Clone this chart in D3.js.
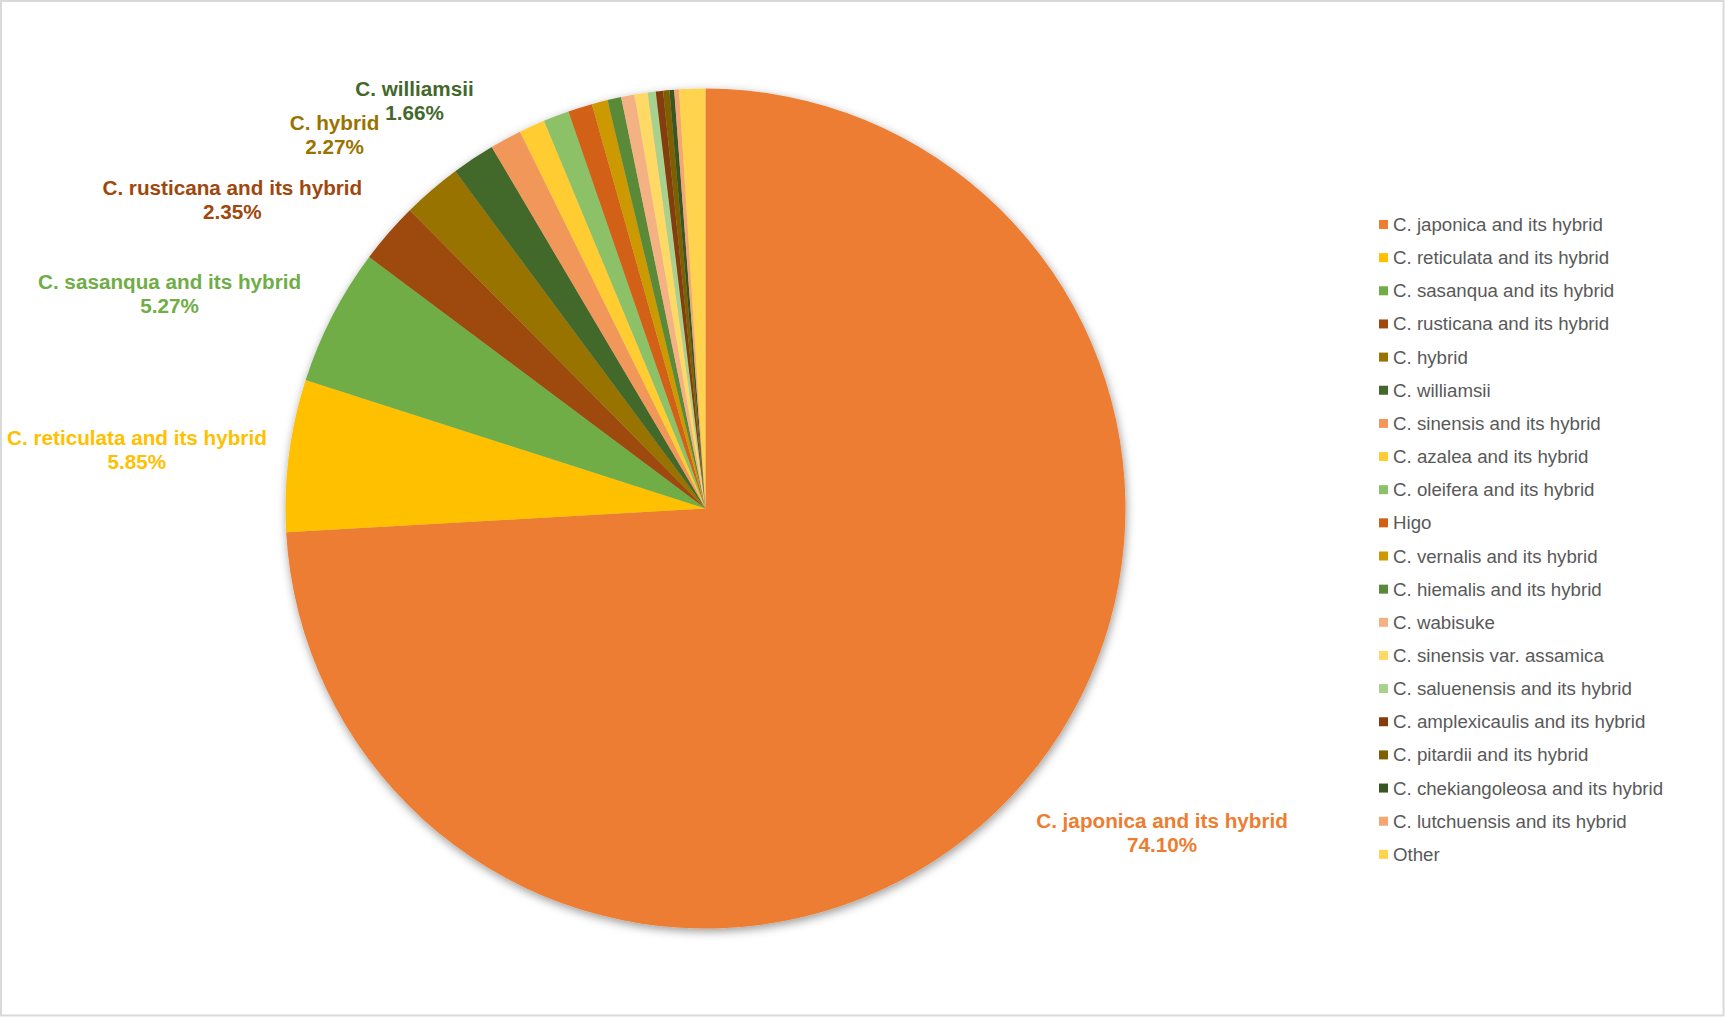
<!DOCTYPE html>
<html>
<head>
<meta charset="utf-8">
<script src="https://cdn.jsdelivr.net/npm/d3@7"></script>
<style>
  html, body { margin: 0; padding: 0; background: #fff; }
  svg { display: block; }
</style>
</head>
<body>
<div id="chart"></div>
<script>
// Camellia cultivar groups and their share of registered cultivars (%)
const categories = [
  "C. japonica and its hybrid",
  "C. reticulata and its hybrid",
  "C. sasanqua and its hybrid",
  "C. rusticana and its hybrid",
  "C. hybrid",
  "C. williamsii",
  "C. sinensis and its hybrid",
  "C. azalea and its hybrid",
  "C. oleifera and its hybrid",
  "Higo",
  "C. vernalis and its hybrid",
  "C. hiemalis and its hybrid",
  "C. wabisuke",
  "C. sinensis var. assamica",
  "C. saluenensis and its hybrid",
  "C. amplexicaulis and its hybrid",
  "C. pitardii and its hybrid",
  "C. chekiangoleosa and its hybrid",
  "C. lutchuensis and its hybrid",
  "Other"
];
const shares = [
  74.10, 5.85, 5.27, 2.35, 2.27, 1.66, 1.22, 1.00, 0.99, 0.93,
  0.61, 0.53, 0.51, 0.51, 0.31, 0.28, 0.24, 0.18, 0.18, 1.01
];
const sliceColors = [
  "#ED7D31", "#FFC000", "#70AD47", "#9E480E", "#997300", "#43682B",
  "#F1975A", "#FFCD33", "#8CC168", "#D26012", "#CC9A00", "#5A8A39",
  "#F4B183", "#FFD966", "#A9D18E", "#843C0C", "#7F6000", "#375623",
  "#F4A673", "#FFD34D"
];
// Groups that carry a data label on the pie
const labeledCategories = [
  "C. japonica and its hybrid",
  "C. reticulata and its hybrid",
  "C. sasanqua and its hybrid",
  "C. rusticana and its hybrid",
  "C. hybrid",
  "C. williamsii"
];

const W = 1725, H = 1017;
const cx = 705.5, cy = 508.5, R = 420;
const FONT = "'Liberation Sans', Arial, sans-serif";

const data = categories.map((c, i) => ({ name: c, value: shares[i] }));
const color = d3.scaleOrdinal().domain(categories).range(sliceColors);

const svg = d3.select("#chart").append("svg")
  .attr("width", W).attr("height", H);

const defs = svg.append("defs");
const f = defs.append("filter").attr("id", "pieShadow")
  .attr("x", "-10%").attr("y", "-10%").attr("width", "120%").attr("height", "120%");
f.append("feDropShadow")
  .attr("dx", 1).attr("dy", 3).attr("stdDeviation", 5)
  .attr("flood-color", "#000").attr("flood-opacity", 0.4);

svg.append("rect").attr("x", 0).attr("y", 0).attr("width", W).attr("height", H).attr("fill", "#fff");
svg.append("rect").attr("x", 1).attr("y", 1).attr("width", W - 2.5).attr("height", H - 2.5)
  .attr("fill", "none").attr("stroke", "#d9d9d9").attr("stroke-width", 2);

const pie = d3.pie().sort(null).value(d => d.value).startAngle(0).endAngle(2 * Math.PI);
const arcs = pie(data);
const arc = d3.arc().innerRadius(0).outerRadius(R);

const g = svg.append("g").attr("transform", `translate(${cx},${cy})`);
g.append("g").attr("filter", "url(#pieShadow)")
  .selectAll("path").data(arcs).join("path")
  .attr("d", arc)
  .attr("fill", d => color(d.data.name));

// ---- data labels, placed just outside the end of each slice ----
const labelSize = 20.7, lineH = 24, gap = 35, vPad = 5, edgeMargin = 7, labelPad = 5;
const measurer = svg.append("text")
  .attr("font-family", FONT).attr("font-weight", "bold").attr("font-size", labelSize)
  .attr("visibility", "hidden");
function textWidth(s) { measurer.text(s); return measurer.node().getComputedTextLength(); }

const labels = arcs.filter(a => labeledCategories.includes(a.data.name)).map(a => {
  const mid = (a.startAngle + a.endAngle) / 2;
  const dir = [Math.sin(mid), -Math.cos(mid)];
  const lines = [a.data.name, a.data.value.toFixed(2) + "%"];
  const widths = lines.map(textWidth);
  const w = Math.max(...widths), h = lines.length * lineH;
  const ax = Math.abs(dir[0]), ay = Math.abs(dir[1]);
  const p = [(R + gap) * dir[0], (R + gap) * dir[1]];
  // anchor the box edge facing the pie on the ray through the slice middle
  let x, y;
  if (ax >= ay) {
    x = p[0] + Math.sign(dir[0]) * w / 2;
    y = p[1] + 0.5 * (dir[1] / ax) * h / 2;
  } else {
    x = p[0] + (dir[0] / ay) * w / 2;
    y = p[1] + Math.sign(dir[1]) * (h / 2 + vPad);
  }
  // keep the label inside the chart area
  x = Math.max(x, edgeMargin - cx + w / 2);
  x = Math.min(x, W - edgeMargin - cx - w / 2);
  return { a, dir, lines, widths, w, h, x, y };
});
function lineBoxes(L) {
  return L.lines.map((s, k) => {
    const yc = L.y - L.h / 2 + lineH * (k + 0.5);
    return [L.x - L.widths[k] / 2 - labelPad / 2, yc - lineH / 2,
            L.x + L.widths[k] / 2 + labelPad / 2, yc + lineH / 2];
  });
}
function overlaps(A, B) {
  const ba = lineBoxes(A), bb = lineBoxes(B);
  return ba.some(p => bb.some(q => p[0] < q[2] && q[0] < p[2] && p[1] < q[3] && q[1] < p[3]));
}
// Resolve collisions by sliding the earlier label sideways, away from the pie
labels.forEach((L, i) => {
  labels.slice(0, i).forEach(P => {
    let guard = 0;
    while (overlaps(L, P) && guard++ < 300) {
      P.x += Math.sign(P.dir[0]);
    }
  });
});
measurer.remove();

const lg = g.append("g").attr("font-family", FONT).attr("font-weight", "bold").attr("font-size", labelSize);
labels.forEach(L => {
  const t = lg.append("text")
    .attr("text-anchor", "middle")
    .attr("fill", color(L.a.data.name));
  L.lines.forEach((s, k) => {
    t.append("tspan")
      .attr("x", L.x)
      .attr("y", L.y - L.h / 2 + lineH * (k + 0.5))
      .attr("dominant-baseline", "central")
      .text(s);
  });
});

// ---- legend ----
const legendX = 1379, legendTop = 224.5, legendStep = 33.15;
const rowY = d3.scaleLinear().domain([0, categories.length - 1])
  .range([legendTop, legendTop + legendStep * (categories.length - 1)]);
const legend = svg.append("g").attr("font-family", FONT).attr("font-size", 18.7);
const items = legend.selectAll("g").data(categories).join("g")
  .attr("transform", (d, i) => `translate(${legendX},${rowY(i)})`);
items.append("rect").attr("x", 0).attr("y", -4.5).attr("width", 9).attr("height", 9)
  .attr("fill", d => color(d));
items.append("text").attr("x", 14).attr("y", 0)
  .attr("dominant-baseline", "central").attr("fill", "#595959")
  .text(d => d);
</script>
</body>
</html>
